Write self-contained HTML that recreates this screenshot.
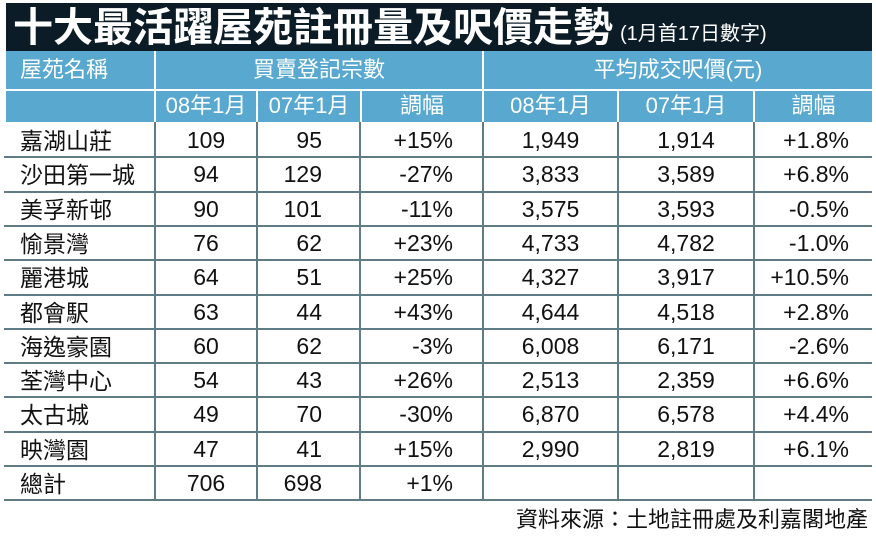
<!DOCTYPE html>
<html><head><meta charset="utf-8"><style>
body{margin:0;width:876px;height:542px;background:#fff;position:relative;overflow:hidden;font-family:"Liberation Sans","Noto Sans CJK TC",sans-serif;}
.t{position:absolute;white-space:nowrap}
#bar{position:absolute;left:6px;top:3px;width:866px;height:48px;background:#0b1c26}
#hd{position:absolute;left:6px;top:51px;width:866px;height:71px;background:#58a8cf}
.hl{position:absolute;left:4px;width:868px;height:2px;background:#5f7c86}
.vl{position:absolute;width:2px;background:#5f7c86}
.wv{position:absolute;width:2px;background:#fff}
.c{position:absolute;font-size:23px;color:#111;text-align:center;white-space:nowrap}
.n{position:absolute;font-size:23px;color:#111;white-space:nowrap;font-family:"Noto Sans CJK TC",sans-serif;line-height:1}
.h{position:absolute;font-size:22px;color:#fff;text-align:center;white-space:nowrap;line-height:1}
</style></head><body>
<div id="bar"></div>
<div class="t" style="left:13px;top:4px;font-size:40px;font-weight:bold;color:#fff;line-height:1;font-family:'Noto Sans CJK TC',sans-serif;">十大最活躍屋苑註冊量及呎價走勢</div>
<div class="t" style="left:620px;top:24px;font-size:20px;color:#fff;line-height:1">(1月首17日數字)</div>
<div id="hd"></div>
<div style="position:absolute;left:6px;top:89px;width:866px;height:2px;background:#fff"></div>
<div class="wv" style="left:154px;top:51px;height:71px"></div>
<div class="wv" style="left:482px;top:51px;height:71px"></div>
<div class="wv" style="left:256px;top:90px;height:32px"></div>
<div class="wv" style="left:360px;top:90px;height:32px"></div>
<div class="wv" style="left:617px;top:90px;height:32px"></div>
<div class="wv" style="left:753px;top:90px;height:32px"></div>
<div class="h" style="left:20px;top:59px">屋苑名稱</div>
<div class="h" style="left:156px;width:326px;top:59px">買賣登記宗數</div>
<div class="h" style="left:484px;width:388px;top:59px">平均成交呎價(元)</div>
<div class="h" style="left:156px;width:100px;top:95px">08年1月</div>
<div class="h" style="left:258px;width:102px;top:95px">07年1月</div>
<div class="h" style="left:362px;width:120px;top:95px">調幅</div>
<div class="h" style="left:484px;width:133px;top:95px">08年1月</div>
<div class="h" style="left:619px;width:134px;top:95px">07年1月</div>
<div class="h" style="left:755px;width:117px;top:95px">調幅</div>
<div id="rows"></div>
<div class="vl" style="left:154px;top:122px;height:379px"></div>
<div class="vl" style="left:256px;top:122px;height:379px"></div>
<div class="vl" style="left:359px;top:122px;height:379px"></div>
<div class="vl" style="left:482px;top:122px;height:379px"></div>
<div class="vl" style="left:617px;top:122px;height:379px"></div>
<div class="vl" style="left:753px;top:122px;height:379px"></div>
<div class="t" style="right:8px;top:507px;font-size:22px;color:#111;line-height:1;font-family:'Noto Sans CJK TC',sans-serif">資料來源：土地註冊處及利嘉閣地產</div>
<script>
var d=[["嘉湖山莊","109","95","+15%","1,949","1,914","+1.8%"],["沙田第一城","94","129","-27%","3,833","3,589","+6.8%"],["美孚新邨","90","101","-11%","3,575","3,593","-0.5%"],["愉景灣","76","62","+23%","4,733","4,782","-1.0%"],["麗港城","64","51","+25%","4,327","3,917","+10.5%"],["都會駅","63","44","+43%","4,644","4,518","+2.8%"],["海逸豪園","60","62","-3%","6,008","6,171","-2.6%"],["荃灣中心","54","43","+26%","2,513","2,359","+6.6%"],["太古城","49","70","-30%","6,870","6,578","+4.4%"],["映灣園","47","41","+15%","2,990","2,819","+6.1%"],["總計","706","698","+1%","","",""]];
var h="";
for(var i=0;i<d.length;i++){var y=123+i*34.3;var r=d[i];
h+='<div class="hl" style="top:'+(y+33.3).toFixed(1)+'px"></div>';
var ty=(y+4).toFixed(1);
h+='<div class="n" style="left:20px;top:'+(y+5).toFixed(1)+'px">'+r[0]+'</div>';
h+='<div class="c" style="left:156px;width:100px;top:'+ty+'px">'+r[1]+'</div>';
h+='<div class="c" style="left:258px;width:64px;top:'+ty+'px;text-align:right">'+r[2]+'</div>';
h+='<div class="c" style="left:362px;width:91px;top:'+ty+'px;text-align:right">'+r[3]+'</div>';
h+='<div class="c" style="left:484px;width:133px;top:'+ty+'px">'+r[4]+'</div>';
h+='<div class="c" style="left:619px;width:134px;top:'+ty+'px">'+r[5]+'</div>';
h+='<div class="c" style="left:755px;width:94px;top:'+ty+'px;text-align:right">'+r[6]+'</div>';}
document.getElementById("rows").innerHTML=h;
</script>
</body></html>
